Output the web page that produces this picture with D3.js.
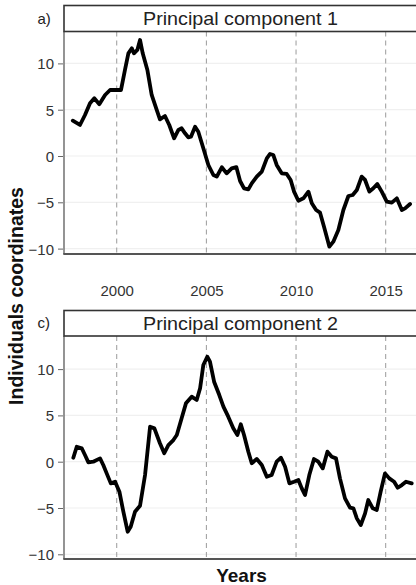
<!DOCTYPE html>
<html>
<head>
<meta charset="utf-8">
<script src="https://cdn.jsdelivr.net/npm/d3@7"></script>
<style>
  html, body { margin: 0; padding: 0; background: #fff; }
  svg { display: block; }
  text { font-family: "Liberation Sans", Arial, sans-serif; }
</style>
</head>
<body>
<svg id="chart" width="416" height="585"></svg>
<script>
// ---- Data ----
const yearTicks = [2000, 2005, 2010, 2015];
const valueTicks = [10, 5, 0, -5, -10];
const panelTitles = ["Principal component 1", "Principal component 2"];
const panelLetters = ["a)", "c)"];

const years1 = [1997.55, 1997.95, 1998.23, 1998.51, 1998.75, 1999.03, 1999.35, 1999.63, 2000.0, 2000.24,
  2000.46, 2000.65, 2000.84, 2000.96, 2001.15, 2001.3, 2001.45, 2001.71, 2001.95, 2002.23,
  2002.41, 2002.69, 2002.93, 2003.2, 2003.44, 2003.62, 2003.81, 2003.99, 2004.14, 2004.37,
  2004.55, 2004.83, 2005.11, 2005.39, 2005.58, 2005.86, 2006.13, 2006.41, 2006.67, 2006.88,
  2007.1, 2007.34, 2007.53, 2007.81, 2008.09, 2008.37, 2008.55, 2008.73, 2008.92, 2009.2,
  2009.48, 2009.7, 2009.89, 2010.13, 2010.41, 2010.69, 2010.88, 2011.12, 2011.34, 2011.56,
  2011.86, 2012.08, 2012.36, 2012.64, 2012.92, 2013.16, 2013.39, 2013.66, 2013.85, 2014.09,
  2014.31, 2014.53, 2014.78, 2015.06, 2015.34, 2015.62, 2015.9, 2016.08, 2016.36];
const pc1 = [3.81, 3.35, 4.43, 5.69, 6.23, 5.6, 6.59, 7.13, 7.13, 7.13,
  9.29, 11.09, 11.63, 11.09, 11.45, 12.53, 11.09, 9.29, 6.59, 4.97,
  3.96, 4.32, 3.35, 1.91, 2.81, 2.99, 2.45, 2.02, 2.08, 3.16,
  2.62, 0.83, -0.97, -2.05, -2.23, -1.22, -1.87, -1.33, -1.2, -2.7,
  -3.49, -3.6, -2.95, -2.23, -1.69, -0.25, 0.22, 0.11, -0.97, -1.87,
  -1.94, -2.59, -3.85, -4.83, -4.57, -3.85, -5.11, -5.83, -6.12, -7.63,
  -9.79, -9.25, -7.99, -5.83, -4.32, -4.21, -3.67, -2.23, -2.59, -3.85,
  -3.49, -3.02, -3.85, -4.93, -5.04, -4.57, -5.83, -5.65, -5.18];

const years2 = [1997.58, 1997.77, 1998.05, 1998.23, 1998.42, 1998.69, 1999.07, 1999.25, 1999.44, 1999.67,
  1999.91, 2000.15, 2000.37, 2000.61, 2000.78, 2001.02, 2001.3, 2001.58, 2001.86, 2002.1,
  2002.41, 2002.65, 2002.88, 2003.16, 2003.35, 2003.62, 2003.86, 2004.18, 2004.46, 2004.65,
  2004.83, 2005.05, 2005.2, 2005.43, 2005.72, 2005.95, 2006.22, 2006.5, 2006.73, 2006.92,
  2007.1, 2007.34, 2007.53, 2007.81, 2008.09, 2008.37, 2008.64, 2008.92, 2009.16, 2009.39,
  2009.63, 2009.89, 2010.13, 2010.32, 2010.5, 2010.74, 2011.0, 2011.24, 2011.49, 2011.75,
  2011.99, 2012.23, 2012.45, 2012.73, 2013.01, 2013.2, 2013.39, 2013.61, 2013.85, 2014.03,
  2014.28, 2014.5, 2014.72, 2014.96, 2015.2, 2015.47, 2015.67, 2015.9, 2016.13, 2016.45];
const pc2 = [0.43, 1.62, 1.45, 0.72, -0.07, 0.0, 0.36, -0.36, -1.26, -2.34,
  -2.16, -3.24, -5.4, -7.56, -7.02, -5.4, -4.75, -1.44, 3.78, 3.6,
  1.99, 0.91, 1.8, 2.34, 2.88, 4.69, 6.3, 7.02, 6.66, 7.93,
  10.44, 11.34, 10.8, 8.64, 7.2, 5.94, 4.86, 3.6, 2.88, 4.04,
  2.88, 1.08, -0.17, 0.29, -0.36, -1.62, -1.44, 0.0, 0.43, -0.54,
  -2.34, -2.16, -1.98, -2.88, -3.6, -1.44, 0.29, 0.0, -0.72, 1.08,
  0.54, 0.36, -1.8, -3.96, -4.97, -5.04, -6.12, -6.84, -5.58, -4.14,
  -5.04, -5.22, -3.24, -1.26, -1.8, -2.16, -2.81, -2.52, -2.16, -2.34];

// ---- Layout ----
const svg = d3.select("#chart");
const plotLeft = 64, plotRight = 416;
const panels = [
  { stripTop: 5.5, stripBottom: 31.5, plotBottom: 254, zeroY: 156, years: years1, vals: pc1 },
  { stripTop: 310.5, stripBottom: 336, plotBottom: 559, zeroY: 461.7, years: years2, vals: pc2 }
];
const pxPerUnit = 9.26;

const x = d3.scaleLinear().domain([1997.06, 2016.69]).range([plotLeft, plotRight]);

panels.forEach((p, i) => {
  const y = d3.scaleLinear()
    .domain([0, 10])
    .range([p.zeroY, p.zeroY - 10 * pxPerUnit]);
  const g = svg.append("g");

  // faint horizontal grid
  g.selectAll("line.hgrid").data(valueTicks).join("line")
    .attr("x1", plotLeft).attr("x2", plotRight)
    .attr("y1", d => y(d)).attr("y2", d => y(d))
    .attr("stroke", "#f0f0f0").attr("stroke-width", 1.2);

  // dashed vertical year lines
  g.selectAll("line.vgrid").data(yearTicks).join("line")
    .attr("x1", d => x(d)).attr("x2", d => x(d))
    .attr("y1", p.stripBottom).attr("y2", p.plotBottom)
    .attr("stroke", "#9a9a9a").attr("stroke-width", 1)
    .attr("stroke-dasharray", "5,4");

  // y axis
  const yAxis = d3.axisLeft(y).tickValues(valueTicks).tickSize(5).tickPadding(4)
    .tickFormat(d3.format("d"));
  const ya = g.append("g").attr("transform", `translate(${plotLeft - 1},0)`).call(yAxis);
  ya.select(".domain").remove();
  ya.selectAll(".tick line").attr("stroke", "#666");
  ya.selectAll(".tick text").attr("fill", "#333").attr("dy", "0.36em").style("font-size", "15px")
    .style("font-family", "'Liberation Sans', Arial, sans-serif");

  // left and bottom axis lines
  g.append("line").attr("x1", plotLeft).attr("x2", plotLeft)
    .attr("y1", p.stripBottom).attr("y2", p.plotBottom)
    .attr("stroke", "#666").attr("stroke-width", 1.4);
  g.append("line").attr("x1", plotLeft - 0.7).attr("x2", plotRight)
    .attr("y1", p.plotBottom).attr("y2", p.plotBottom)
    .attr("stroke", "#555").attr("stroke-width", 2);

  // line
  const line = d3.line().x((d, k) => x(p.years[k])).y(d => y(d)).curve(d3.curveLinear);
  g.append("path").datum(p.vals).attr("d", line)
    .attr("fill", "none").attr("stroke", "#000").attr("stroke-width", 3.8)
    .attr("stroke-linejoin", "round").attr("stroke-linecap", "round");

  // strip
  g.append("rect").attr("x", plotLeft).attr("y", p.stripTop)
    .attr("width", plotRight - plotLeft + 10).attr("height", p.stripBottom - p.stripTop)
    .attr("fill", "#fff").attr("stroke", "#333").attr("stroke-width", 1.6);
  g.append("text").attr("x", 240.5).attr("y", (p.stripTop + p.stripBottom) / 2 + 6.5)
    .attr("text-anchor", "middle").attr("fill", "#222").style("font-size", "18.5px")
    .attr("textLength", 195).attr("lengthAdjust", "spacingAndGlyphs")
    .text(panelTitles[i]);
  g.append("text").attr("x", 37.5).attr("y", (p.stripTop + p.stripBottom) / 2 + 5)
    .attr("fill", "#222").style("font-size", "15px").text(panelLetters[i]);
});

// x tick labels under the first panel
svg.append("g").attr("transform", "translate(0,254)")
  .call(d3.axisBottom(x).tickValues(yearTicks).tickSize(0).tickPadding(31).tickFormat(d3.format("d")))
  .call(a => a.select(".domain").remove())
  .selectAll("text").attr("fill", "#333").style("font-size", "15px")
  .style("font-family", "'Liberation Sans', Arial, sans-serif");

// axis titles
svg.append("text").attr("transform", "translate(22.5,296) rotate(-90)")
  .attr("text-anchor", "middle").attr("fill", "#111")
  .style("font-size", "19.5px").style("font-weight", "bold").text("Individuals coordinates");
svg.append("text").attr("x", 241.5).attr("y", 582)
  .attr("text-anchor", "middle").attr("fill", "#111")
  .style("font-size", "19px").style("font-weight", "bold").text("Years");
</script>
</body>
</html>
